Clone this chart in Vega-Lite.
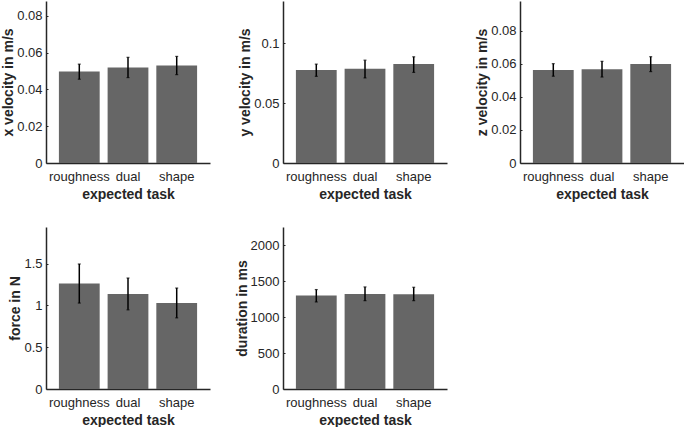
{
  "$schema": "https://vega.github.io/schema/vega-lite/v6.json",
  "padding": {"left": 1, "top": 1, "right": 0, "bottom": 0},
  "background": "white",
  "datasets": {
    "d": [
      {"panel": "x", "task": "roughness", "mean": 0.0497, "lo": 0.0455, "hi": 0.0537},
      {"panel": "x", "task": "dual", "mean": 0.0519, "lo": 0.0464, "hi": 0.0574},
      {"panel": "x", "task": "shape", "mean": 0.053, "lo": 0.048, "hi": 0.0579},
      {"panel": "y", "task": "roughness", "mean": 0.0775, "lo": 0.0722, "hi": 0.0824},
      {"panel": "y", "task": "dual", "mean": 0.0786, "lo": 0.0709, "hi": 0.0857},
      {"panel": "y", "task": "shape", "mean": 0.0824, "lo": 0.0755, "hi": 0.0885},
      {"panel": "z", "task": "roughness", "mean": 0.0563, "lo": 0.0525, "hi": 0.0601},
      {"panel": "z", "task": "dual", "mean": 0.0567, "lo": 0.052, "hi": 0.0615},
      {"panel": "z", "task": "shape", "mean": 0.0599, "lo": 0.0553, "hi": 0.0643},
      {"panel": "f", "task": "roughness", "mean": 1.264, "lo": 1.029, "hi": 1.497},
      {"panel": "f", "task": "dual", "mean": 1.137, "lo": 0.948, "hi": 1.329},
      {"panel": "f", "task": "shape", "mean": 1.029, "lo": 0.852, "hi": 1.209},
      {"panel": "d", "task": "roughness", "mean": 1297, "lo": 1209, "hi": 1381},
      {"panel": "d", "task": "dual", "mean": 1321, "lo": 1227, "hi": 1418},
      {"panel": "d", "task": "shape", "mean": 1315, "lo": 1227, "hi": 1413}
    ]
  },
  "config": {
    "font": "Liberation Sans",
    "view": {"stroke": null},
    "axis": {
      "domainColor": "#262626",
      "domainWidth": 1.5,
      "tickColor": "#262626",
      "labelColor": "#262626",
      "titleColor": "#262626",
      "labelFont": "Liberation Sans",
      "titleFont": "Liberation Sans",
      "labelFontSize": 13,
      "titleFontSize": 14,
      "titleFontWeight": "bold",
      "grid": false
    },
    "axisY": {"tickSize": -2, "labelPadding": 6, "titlePadding": 1},
    "axisX": {"ticks": false, "labelPadding": 7, "labelAngle": 0, "titlePadding": 4}
  },
  "concat": [
    {
      "width": 164, "height": 162,
      "data": {"name": "d"},
      "transform": [{"filter": "datum.panel == 'x'"}],
      "encoding": {"x": {"field": "task", "type": "nominal", "sort": ["roughness", "dual", "shape"], "scale": {"paddingInner": 0.163, "paddingOuter": 0.265}, "axis": {"title": "expected task"}}},
      "layer": [
        {"mark": {"type": "bar", "color": "#666666"}, "encoding": {"y": {"field": "mean", "type": "quantitative", "scale": {"domain": [0, 0.088], "nice": false}, "axis": {"title": "x velocity in m/s", "values": [0, 0.02, 0.04, 0.06, 0.08], "format": "~r"}}}},
        {"mark": {"type": "rule", "color": "black", "strokeWidth": 1.5}, "encoding": {"y": {"field": "lo", "type": "quantitative"}, "y2": {"field": "hi"}}},
        {"mark": {"type": "tick", "color": "black", "size": 3, "thickness": 1.2}, "encoding": {"y": {"field": "lo", "type": "quantitative"}}},
        {"mark": {"type": "tick", "color": "black", "size": 3, "thickness": 1.2}, "encoding": {"y": {"field": "hi", "type": "quantitative"}}}
      ]
    },
    {
      "width": 164, "height": 162,
      "data": {"name": "d"},
      "transform": [{"filter": "datum.panel == 'y'"}],
      "encoding": {"x": {"field": "task", "type": "nominal", "sort": ["roughness", "dual", "shape"], "scale": {"paddingInner": 0.163, "paddingOuter": 0.265}, "axis": {"title": "expected task"}}},
      "layer": [
        {"mark": {"type": "bar", "color": "#666666"}, "encoding": {"y": {"field": "mean", "type": "quantitative", "scale": {"domain": [0, 0.135], "nice": false}, "axis": {"title": "y velocity in m/s", "values": [0, 0.05, 0.1], "format": "~r"}}}},
        {"mark": {"type": "rule", "color": "black", "strokeWidth": 1.5}, "encoding": {"y": {"field": "lo", "type": "quantitative"}, "y2": {"field": "hi"}}},
        {"mark": {"type": "tick", "color": "black", "size": 3, "thickness": 1.2}, "encoding": {"y": {"field": "lo", "type": "quantitative"}}},
        {"mark": {"type": "tick", "color": "black", "size": 3, "thickness": 1.2}, "encoding": {"y": {"field": "hi", "type": "quantitative"}}}
      ]
    },
    {
      "width": 164, "height": 162,
      "data": {"name": "d"},
      "transform": [{"filter": "datum.panel == 'z'"}],
      "encoding": {"x": {"field": "task", "type": "nominal", "sort": ["roughness", "dual", "shape"], "scale": {"paddingInner": 0.163, "paddingOuter": 0.265}, "axis": {"title": "expected task"}}},
      "layer": [
        {"mark": {"type": "bar", "color": "#666666"}, "encoding": {"y": {"field": "mean", "type": "quantitative", "scale": {"domain": [0, 0.098], "nice": false}, "axis": {"title": "z velocity in m/s", "values": [0, 0.02, 0.04, 0.06, 0.08], "format": "~r"}}}},
        {"mark": {"type": "rule", "color": "black", "strokeWidth": 1.5}, "encoding": {"y": {"field": "lo", "type": "quantitative"}, "y2": {"field": "hi"}}},
        {"mark": {"type": "tick", "color": "black", "size": 3, "thickness": 1.2}, "encoding": {"y": {"field": "lo", "type": "quantitative"}}},
        {"mark": {"type": "tick", "color": "black", "size": 3, "thickness": 1.2}, "encoding": {"y": {"field": "hi", "type": "quantitative"}}}
      ]
    },
    {
      "width": 164, "height": 162,
      "data": {"name": "d"},
      "transform": [{"filter": "datum.panel == 'f'"}],
      "encoding": {"x": {"field": "task", "type": "nominal", "sort": ["roughness", "dual", "shape"], "scale": {"paddingInner": 0.163, "paddingOuter": 0.265}, "axis": {"title": "expected task"}}},
      "layer": [
        {"mark": {"type": "bar", "color": "#666666"}, "encoding": {"y": {"field": "mean", "type": "quantitative", "scale": {"domain": [0, 1.94], "nice": false}, "axis": {"title": "force in N", "values": [0, 0.5, 1, 1.5], "format": "~r"}}}},
        {"mark": {"type": "rule", "color": "black", "strokeWidth": 1.5}, "encoding": {"y": {"field": "lo", "type": "quantitative"}, "y2": {"field": "hi"}}},
        {"mark": {"type": "tick", "color": "black", "size": 3, "thickness": 1.2}, "encoding": {"y": {"field": "lo", "type": "quantitative"}}},
        {"mark": {"type": "tick", "color": "black", "size": 3, "thickness": 1.2}, "encoding": {"y": {"field": "hi", "type": "quantitative"}}}
      ]
    },
    {
      "width": 164, "height": 162,
      "data": {"name": "d"},
      "transform": [{"filter": "datum.panel == 'd'"}],
      "encoding": {"x": {"field": "task", "type": "nominal", "sort": ["roughness", "dual", "shape"], "scale": {"paddingInner": 0.163, "paddingOuter": 0.265}, "axis": {"title": "expected task"}}},
      "layer": [
        {"mark": {"type": "bar", "color": "#666666"}, "encoding": {"y": {"field": "mean", "type": "quantitative", "scale": {"domain": [0, 2250], "nice": false}, "axis": {"title": "duration in ms", "values": [0, 500, 1000, 1500, 2000], "format": "~r"}}}},
        {"mark": {"type": "rule", "color": "black", "strokeWidth": 1.5}, "encoding": {"y": {"field": "lo", "type": "quantitative"}, "y2": {"field": "hi"}}},
        {"mark": {"type": "tick", "color": "black", "size": 3, "thickness": 1.2}, "encoding": {"y": {"field": "lo", "type": "quantitative"}}},
        {"mark": {"type": "tick", "color": "black", "size": 3, "thickness": 1.2}, "encoding": {"y": {"field": "hi", "type": "quantitative"}}}
      ]
    }
  ],
  "columns": 3,
  "bounds": "flush",
  "spacing": {"row": 64, "column": 73}
}
